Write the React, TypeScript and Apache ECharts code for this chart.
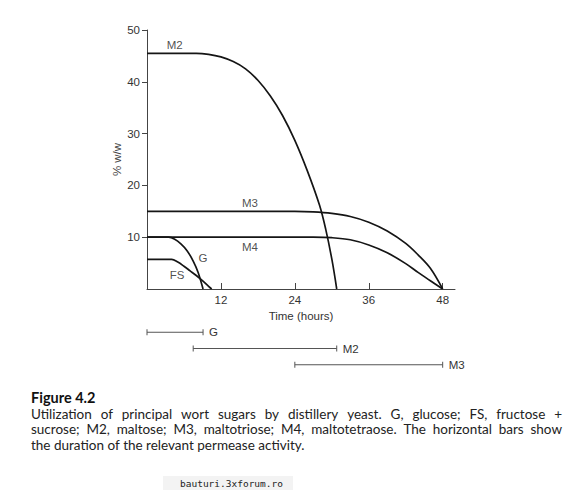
import React, { useEffect, useRef } from "react";
import * as echarts from "echarts";

// ---- data ----
const xTicks = [12, 24, 36, 48];
const yTicks = [10, 20, 30, 40, 50];

const m2 = [[0, 45.5], [8, 45.5], [10, 45.3], [12, 44.8], [14, 43.9], [16, 42.5], [18, 40.3], [20, 37.3], [22, 33.5], [24, 28.7], [26, 22.9], [28, 16.2], [29, 11.6], [30, 5.8], [30.8, 0]];
const m3 = [[0, 15], [24, 15], [27, 14.9], [30, 14.6], [33, 14.0], [36, 12.9], [39, 11.2], [42, 8.8], [44, 6.6], [46, 4.0], [48, 0]];
const m4 = [[0, 10], [27, 10], [30, 9.9], [33, 9.5], [36, 8.5], [39, 7.0], [42, 4.9], [44, 3.2], [46, 1.6], [48, 0]];
const glucose = [[0, 10], [3.5, 10], [4.5, 9.6], [5.5, 8.7], [6.5, 7.4], [7.5, 5.4], [8.3, 3.2], [9.1, 0]];
const fs = [[0, 5.7], [4, 5.7], [5, 5.2], [6, 4.4], [7, 3.5], [8, 2.6], [9, 1.6], [10, 0.5], [10.5, 0]];

const labelNames = ["M2", "M3", "M4", "G", "FS"];
const labelTimes = [4.5, 16.7, 16.7, 9.1, 4.9];
const labelValues = [47.2, 16.6, 8.1, 6.0, 2.7];

const permeaseNames = ["G", "M2", "M3"];
const permeaseStart = [0, 7.5, 24];
const permeaseEnd = [9.1, 30.8, 48];

const captionTitle = "Figure 4.2";
const captionLines = [
  "Utilization of principal wort sugars by distillery yeast. G, glucose; FS, fructose +",
  "sucrose; M2, maltose; M3, maltotriose; M4, maltotetraose. The horizontal bars show",
  "the duration of the relevant permease activity.",
];
const watermark = "bauturi.3xforum.ro";

const CHART_FONT = "Liberation Sans";
const CAPTION_FONT = "Lato";

function layoutWords(line: string, fontSize: number, x0: number, x1: number, justify: boolean) {
  const canvas = document.createElement("canvas");
  const ctx = canvas.getContext("2d")!;
  ctx.font = `${fontSize}px ${CAPTION_FONT}`;
  const words = line.split(" ");
  const widths = words.map((w) => ctx.measureText(w).width);
  const total = widths.reduce((a, b) => a + b, 0);
  const space = justify && words.length > 1 ? (x1 - x0 - total) / (words.length - 1) : ctx.measureText(" ").width;
  let x = x0;
  return words.map((w, i) => {
    const r = { w, x };
    x += widths[i] + space;
    return r;
  });
}

export default function App() {
  const ref = useRef<HTMLDivElement>(null);
  useEffect(() => {
    if (!ref.current) return;
    const chart = echarts.init(ref.current, undefined, { renderer: "svg" });

    const lineStyle = { color: "#151515", width: 1.7 };
    const mkLine = (name: string, data: number[][]) => ({
      name,
      type: "line",
      xAxisIndex: 0,
      yAxisIndex: 0,
      data,
      symbol: "none",
      smooth: 0.35,
      lineStyle,
      silent: true,
      z: 3,
    });

    const captionFs = 13.5;
    const captionX0 = 31;
    const captionX1 = 562;
    const captionYs = [413.5, 429, 444.5];
    const captionGraphics: any[] = [];
    captionLines.forEach((line, li) => {
      const justify = li < captionLines.length - 1;
      layoutWords(line, captionFs, captionX0, captionX1, justify).forEach((w) => {
        captionGraphics.push({
          type: "text",
          x: w.x,
          y: captionYs[li],
          style: {
            text: w.w,
            fill: "#222",
            fontSize: captionFs,
            fontFamily: CAPTION_FONT,
            align: "left",
            verticalAlign: "middle",
          },
        });
      });
    });

    const option: any = {
      animation: false,
      backgroundColor: "#ffffff",
      textStyle: { fontFamily: CHART_FONT },
      grid: [
        { left: 147, right: 127, top: 30, bottom: 201 },
        { left: 147, right: 127, top: 316, height: 65 },
      ],
      xAxis: [
        {
          type: "value",
          gridIndex: 0,
          min: 0,
          max: 50,
          interval: 12,
          splitLine: { show: false },
          axisLine: { show: true, onZero: false, lineStyle: { color: "#444", width: 1 } },
          axisTick: { show: true, inside: true, length: 6, customValues: xTicks, lineStyle: { color: "#444" } },
          axisLabel: {
            customValues: xTicks,
            margin: 5,
            color: "#333",
            fontSize: 11.5,
            fontFamily: CHART_FONT,
          },
          name: "Time (hours)",
          nameLocation: "middle",
          nameGap: 21,
          nameMoveOverlap: false,
          nameTextStyle: { color: "#333", fontSize: 11.5, fontFamily: CHART_FONT },
        },
        { type: "value", gridIndex: 1, min: 0, max: 50, show: false },
      ],
      yAxis: [
        {
          type: "value",
          gridIndex: 0,
          min: 0,
          max: 50,
          interval: 10,
          splitLine: { show: false },
          axisLine: { show: true, onZero: false, lineStyle: { color: "#444", width: 1 } },
          axisTick: { show: true, inside: false, length: 5, customValues: yTicks, lineStyle: { color: "#444" } },
          axisLabel: {
            customValues: yTicks,
            margin: 7,
            color: "#333",
            fontSize: 11.5,
            fontFamily: CHART_FONT,
          },
          name: "% w/w",
          nameLocation: "middle",
          nameGap: 24,
          nameMoveOverlap: false,
          nameRotate: 90,
          nameTextStyle: { color: "#444", fontSize: 11.5, fontFamily: CHART_FONT },
        },
        { type: "value", gridIndex: 1, min: 0, max: 4, inverse: true, show: false },
      ],
      series: [
        mkLine("M2", m2),
        mkLine("M3", m3),
        mkLine("M4", m4),
        mkLine("G", glucose),
        mkLine("FS", fs),
        {
          type: "scatter",
          xAxisIndex: 0,
          yAxisIndex: 0,
          data: labelTimes.map((t, i) => [t, labelValues[i]]),
          symbol: "circle",
          symbolSize: 2,
          itemStyle: { color: "rgba(0,0,0,0)" },
          silent: true,
          label: {
            show: true,
            position: "inside",
            formatter: (p: any) => labelNames[p.dataIndex],
            color: "#222",
            fontSize: 11.5,
            fontFamily: CHART_FONT,
          },
          z: 5,
        },
        {
          type: "custom",
          xAxisIndex: 1,
          yAxisIndex: 1,
          clip: false,
          silent: true,
          data: permeaseStart.map((s, i) => [s, permeaseEnd[i], i + 1]),
          encode: { x: [0, 1], y: 2 },
          renderItem: (params: any, api: any) => {
            const s = api.coord([api.value(0), api.value(2)]);
            const e = api.coord([api.value(1), api.value(2)]);
            const st = { stroke: "#555", lineWidth: 1 };
            return {
              type: "group",
              children: [
                { type: "line", shape: { x1: s[0], y1: s[1], x2: e[0], y2: e[1] }, style: st },
                { type: "line", shape: { x1: s[0], y1: s[1] - 3, x2: s[0], y2: s[1] + 3 }, style: st },
                { type: "line", shape: { x1: e[0], y1: e[1] - 3, x2: e[0], y2: e[1] + 3 }, style: st },
                {
                  type: "text",
                  x: e[0] + 6,
                  y: e[1],
                  style: {
                    text: permeaseNames[params.dataIndex],
                    fill: "#333",
                    fontSize: 11.5,
                    fontFamily: CHART_FONT,
                    align: "left",
                    verticalAlign: "middle",
                  },
                },
              ],
            };
          },
        },
      ],
      graphic: [
        {
          type: "text",
          x: 31,
          y: 397,
          style: {
            text: captionTitle,
            fill: "#111",
            fontSize: 14.5,
            fontWeight: "bold",
            fontFamily: CAPTION_FONT,
            align: "left",
            verticalAlign: "middle",
          },
        },
        ...captionGraphics,
        {
          type: "rect",
          shape: { x: 163, y: 476, width: 130, height: 14 },
          style: { fill: "#f3f3f3" },
        },
        {
          type: "text",
          x: 180,
          y: 483,
          style: {
            text: watermark,
            fill: "#222",
            fontSize: 9.5,
            fontFamily: "DejaVu Sans Mono",
            align: "left",
            verticalAlign: "middle",
          },
        },
      ],
    };
    chart.setOption(option);
    return () => chart.dispose();
  }, []);

  return (
    <div
      ref={ref}
      style={{ position: "absolute", left: 0, top: 0, width: 582, height: 490, background: "#fff" }}
    />
  );
}
